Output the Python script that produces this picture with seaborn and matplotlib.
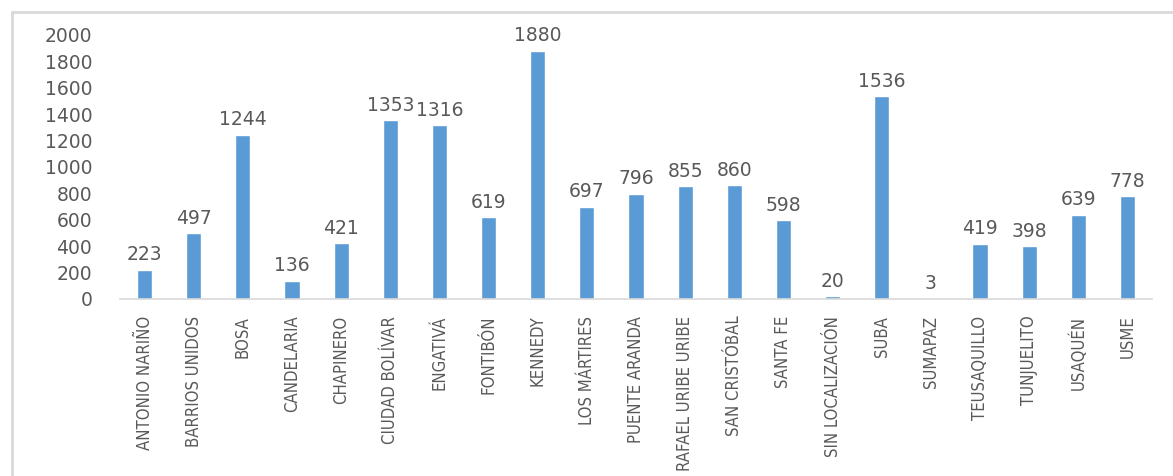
import matplotlib
matplotlib.use("Agg")
import matplotlib.pyplot as plt
from matplotlib.lines import Line2D
import seaborn as sns

# Casos por localidad
localidades = [
    "ANTONIO NARIÑO", "BARRIOS UNIDOS", "BOSA", "CANDELARIA", "CHAPINERO",
    "CIUDAD BOLÍVAR", "ENGATIVÁ", "FONTIBÓN", "KENNEDY", "LOS MÁRTIRES",
    "PUENTE ARANDA", "RAFAEL URIBE URIBE", "SAN CRISTÓBAL", "SANTA FE",
    "SIN LOCALIZACIÓN", "SUBA", "SUMAPAZ", "TEUSAQUILLO", "TUNJUELITO",
    "USAQUÉN", "USME",
]
casos = [223, 497, 1244, 136, 421, 1353, 1316, 619, 1880, 697, 796, 855,
         860, 598, 20, 1536, 3, 419, 398, 639, 778]
y_ticks = [0, 200, 400, 600, 800, 1000, 1200, 1400, 1600, 1800, 2000]

sns.set_theme(style="white")
plt.rcParams["font.family"] = ["DejaVu Sans"]

W, H = 1173, 476
fig = plt.figure(figsize=(W / 100, H / 100), dpi=100)
ax = fig.add_axes([120 / W, (H - 299) / H, (1152 - 120) / W, (299 - 35) / H])

text_color = "#595959"
bar_color = "#5B9BD5"

sns.barplot(x=localidades, y=casos, color=bar_color, saturation=1,
            width=0.31, ax=ax)

ax.set_ylim(0, 2000)
ax.set_xlim(-0.5, len(localidades) - 0.5)
ax.set_yticks(y_ticks)
ax.set_yticklabels([str(t) for t in y_ticks])
ax.set_xlabel("")
ax.set_ylabel("")

for side in ["left", "right", "top"]:
    ax.spines[side].set_visible(False)
ax.spines["bottom"].set_color("#D9D9D9")
ax.spines["bottom"].set_linewidth(1.2)

ax.tick_params(axis="y", length=0, pad=20, labelsize=13.5, labelcolor=text_color)
ax.tick_params(axis="x", length=0, pad=12, labelcolor=text_color)

for lbl in ax.get_xticklabels():
    lbl.set_rotation(90)
    lbl.set_family(["DejaVu Sans"])
    lbl.set_fontstretch("condensed")
    lbl.set_fontsize(12)
    lbl.set_va("top")
    lbl.set_ha("center")

labels = ax.bar_label(ax.containers[0], labels=[str(v) for v in casos],
                      padding=4, fontsize=13.5, color=text_color)
for t in labels:
    t.set_clip_on(False)

# Marco del gráfico
frame_kw = dict(color="#D9D9D9", linewidth=2.0, transform=fig.transFigure)
fig.add_artist(Line2D([12 / W, 12 / W], [0, 1 - 12 / H], **frame_kw))
fig.add_artist(Line2D([12 / W, 1], [1 - 12 / H, 1 - 12 / H], **frame_kw))

fig.savefig("out.png", dpi=100, facecolor="white")
